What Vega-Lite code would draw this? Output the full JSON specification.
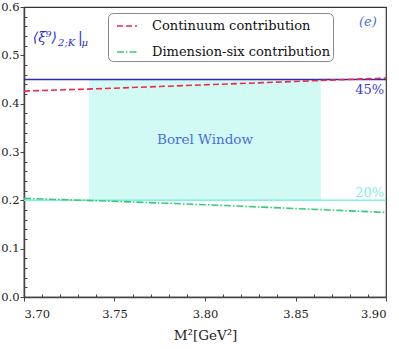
{
  "$schema": "https://vega.github.io/schema/vega-lite/v6.json",
  "width": 362,
  "height": 290,
  "autosize": {"type": "none"},
  "padding": {"left": 24, "top": 7, "right": 13, "bottom": 52},
  "background": "white",
  "config": {
    "view": {"stroke": "#333333", "strokeWidth": 1.2},
    "font": "DejaVu Serif, Liberation Serif, serif",
    "axis": {"labelFont": "DejaVu Serif, Liberation Serif, serif", "titleFont": "DejaVu Serif, Liberation Serif, serif", "labelColor": "#222222", "titleColor": "#222222", "domainColor": "#444444", "tickColor": "#444444", "grid": false, "labelFontSize": 11.5, "titleFontSize": 13.5, "titleFontWeight": "normal"}
  },
  "datasets": {
    "curves": [
      {"M2": 3.70, "R": 0.426, "series": "Continuum contribution"},
      {"M2": 3.75, "R": 0.432, "series": "Continuum contribution"},
      {"M2": 3.80, "R": 0.439, "series": "Continuum contribution"},
      {"M2": 3.85, "R": 0.446, "series": "Continuum contribution"},
      {"M2": 3.90, "R": 0.453, "series": "Continuum contribution"},
      {"M2": 3.70, "R": 0.204, "series": "Dimension-six contribution"},
      {"M2": 3.75, "R": 0.198, "series": "Dimension-six contribution"},
      {"M2": 3.80, "R": 0.191, "series": "Dimension-six contribution"},
      {"M2": 3.85, "R": 0.183, "series": "Dimension-six contribution"},
      {"M2": 3.90, "R": 0.175, "series": "Dimension-six contribution"}
    ]
  },
  "layer": [
    {
      "data": {"values": [{"x1": 3.736, "x2": 3.864, "y1": 0.2, "y2": 0.45}]},
      "mark": {"type": "rect", "color": "#d2faf5"},
      "encoding": {
        "x": {"field": "x1", "type": "quantitative", "scale": {"domain": [3.7, 3.9], "nice": false, "zero": false},
              "axis": {"orient": "bottom", "values": [3.71,3.72,3.73,3.74,3.76,3.77,3.78,3.79,3.81,3.82,3.83,3.84,3.86,3.87,3.88,3.89], "labels": false, "domain": false, "tickSize": -3, "title": null}},
        "x2": {"field": "x2"},
        "y": {"field": "y1", "type": "quantitative", "scale": {"domain": [0, 0.6], "nice": false},
              "axis": {"orient": "left", "values": [0.02,0.04,0.06,0.08,0.12,0.14,0.16,0.18,0.22,0.24,0.26,0.28,0.32,0.34,0.36,0.38,0.42,0.44,0.46,0.48,0.52,0.54,0.56,0.58], "labels": false, "domain": false, "tickSize": -3, "title": null}},
        "y2": {"field": "y2"}
      }
    },
    {
      "data": {"values": [{"level": 0.45}]},
      "mark": {"type": "rule", "color": "#2b2bb0", "strokeWidth": 1.3},
      "encoding": {"y": {"field": "level", "type": "quantitative", "axis": null}}
    },
    {
      "data": {"values": [{"level": 0.2}]},
      "mark": {"type": "rule", "color": "#80f0e0", "strokeWidth": 1.5},
      "encoding": {"y": {"field": "level", "type": "quantitative", "axis": null}}
    },
    {
      "data": {"name": "curves"},
      "mark": {"type": "line", "strokeWidth": 1.6},
      "encoding": {
        "x": {"field": "M2", "type": "quantitative",
              "axis": {"orient": "bottom", "values": [3.70, 3.75, 3.80, 3.85, 3.90], "format": ".2f", "tickSize": 4, "domainWidth": 1.5, "labelPadding": 7, "title": "M²[GeV²]", "titlePadding": 9}},
        "y": {"field": "R", "type": "quantitative",
              "axis": {"orient": "left", "values": [0, 0.1, 0.2, 0.3, 0.4, 0.5, 0.6], "format": ".1f", "tickSize": 4, "domainWidth": 1.5, "labelPadding": 1, "title": null}},
        "color": {"field": "series", "type": "nominal",
                  "scale": {"domain": ["Continuum contribution", "Dimension-six contribution"], "range": ["#ee2a48", "#33cc77"]},
                  "legend": {"title": null, "orient": "none", "legendX": 84, "legendY": 6, "symbolType": "stroke", "symbolSize": 400, "symbolStrokeWidth": 1.6, "symbolOffset": 6,
                             "labelFont": "DejaVu Serif, Liberation Serif, serif", "labelFontSize": 13, "labelColor": "#111111", "labelOffset": 14, "labelLimit": 0,
                             "strokeColor": "#8a8a8a", "fillColor": "white", "cornerRadius": 5, "padding": 2, "rowPadding": 8}},
        "strokeDash": {"field": "series", "type": "nominal",
                       "scale": {"domain": ["Continuum contribution", "Dimension-six contribution"], "range": [[6, 3], [7, 2, 1.5, 2]]},
                       "legend": null}
      }
    },
    {
      "data": {"values": [{"x": 3.80, "y": 0.325, "t": "Borel Window"}]},
      "mark": {"type": "text", "font": "DejaVu Serif, Liberation Serif, serif", "fontSize": 13.5, "color": "#4a6ee0", "align": "center", "baseline": "middle"},
      "encoding": {"x": {"field": "x", "type": "quantitative", "axis": null}, "y": {"field": "y", "type": "quantitative", "axis": null}, "text": {"field": "t"}}
    },
    {
      "data": {"values": [{"x": 3.899, "y": 0.428, "t": "45%"}]},
      "mark": {"type": "text", "font": "DejaVu Serif, Liberation Serif, serif", "fontSize": 13, "color": "#3a3ad0", "align": "right", "baseline": "middle"},
      "encoding": {"x": {"field": "x", "type": "quantitative", "axis": null}, "y": {"field": "y", "type": "quantitative", "axis": null}, "text": {"field": "t"}}
    },
    {
      "data": {"values": [{"x": 3.899, "y": 0.215, "t": "20%"}]},
      "mark": {"type": "text", "font": "DejaVu Serif, Liberation Serif, serif", "fontSize": 13, "color": "#80f0e0", "align": "right", "baseline": "middle"},
      "encoding": {"x": {"field": "x", "type": "quantitative", "axis": null}, "y": {"field": "y", "type": "quantitative", "axis": null}, "text": {"field": "t"}}
    },
    {
      "data": {"values": [{"x": 3.890, "y": 0.569, "t": "(e)"}]},
      "mark": {"type": "text", "font": "DejaVu Serif, Liberation Serif, serif", "fontSize": 13, "fontStyle": "italic", "color": "#4a6ee0", "align": "center", "baseline": "middle"},
      "encoding": {"x": {"field": "x", "type": "quantitative", "axis": null}, "y": {"field": "y", "type": "quantitative", "axis": null}, "text": {"field": "t"}}
    },
    {
      "data": {"values": [{"x": 3.7048, "y": 0.528, "t": "⟨ξ⁹⟩", "s": 14}, {"x": 3.7188, "y": 0.520, "t": "2;K", "s": 10}, {"x": 3.7298, "y": 0.528, "t": "|", "s": 14}, {"x": 3.7318, "y": 0.520, "t": "μ", "s": 10}]},
      "mark": {"type": "text", "font": "DejaVu Serif, Liberation Serif, serif", "color": "#2b2bd0", "align": "left", "baseline": "alphabetic", "fontStyle": "italic"},
      "encoding": {"x": {"field": "x", "type": "quantitative", "axis": null}, "y": {"field": "y", "type": "quantitative", "axis": null}, "text": {"field": "t"},
                   "size": {"field": "s", "type": "quantitative", "scale": null, "legend": null}}
    }
  ],
  "resolve": {"axis": {"x": "independent", "y": "independent"}}
}
